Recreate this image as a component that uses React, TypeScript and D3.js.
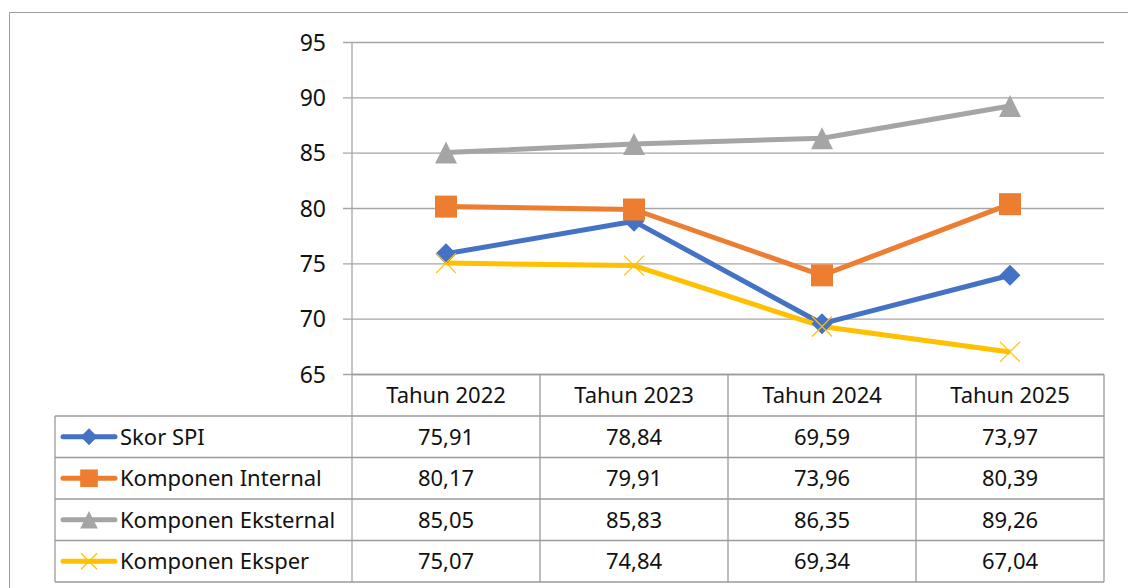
import React from "react";
import * as d3 from "d3";

const years = ["Tahun 2022", "Tahun 2023", "Tahun 2024", "Tahun 2025"];
const seriesNames = [
  "Skor SPI",
  "Komponen Internal",
  "Komponen Eksternal",
  "Komponen Eksper",
];
const skorSpi = [75.91, 78.84, 69.59, 73.97];
const internal = [80.17, 79.91, 73.96, 80.39];
const eksternal = [85.05, 85.83, 86.35, 89.26];
const eksper = [75.07, 74.84, 69.34, 67.04];
const yTicks = [65, 70, 75, 80, 85, 90, 95];

const colors = ["#4472C4", "#ED7D31", "#A5A5A5", "#FFC000"];
const markerTypes = ["diamond", "square", "triangle", "x"];

const W = 1128;
const H = 588;
const FONT = "'Noto Sans', 'Open Sans', sans-serif";

const locale = d3.formatLocale({
  decimal: ",",
  thousands: ".",
  grouping: [3],
  currency: ["", ""],
});
const fmt = locale.format(".2f");

function Marker({ type, x, y, color, s = 1 }) {
  if (type === "diamond") {
    const r = 10.5 * s;
    return (
      <path
        d={`M${x},${y - r}L${x + r},${y}L${x},${y + r}L${x - r},${y}Z`}
        fill={color}
      />
    );
  }
  if (type === "square") {
    const h = 11 * s;
    return <rect x={x - h} y={y - h} width={2 * h} height={2 * h} fill={color} />;
  }
  if (type === "triangle") {
    const h = 11 * s;
    return (
      <path
        d={`M${x},${y - h}L${x + h},${y + h}L${x - h},${y + h}Z`}
        fill={color}
      />
    );
  }
  const h = 10 * s;
  return (
    <path
      d={`M${x - h},${y - h}L${x + h},${y + h}M${x + h},${y - h}L${x - h},${y + h}`}
      stroke={color}
      strokeWidth={1.2}
    />
  );
}

export default function App() {
  const series = [skorSpi, internal, eksternal, eksper];

  const x = d3.scaleBand().domain(years).range([352, 1104]).padding(0);
  const y = d3.scaleLinear().domain([65, 95]).range([374.5, 42.5]);

  const headerTop = y(65);
  const rowH = 41.5;
  const tableLeft = 55;
  const rowTop = (i) => headerTop + rowH * (i + 1);
  const tableBottom = rowTop(series.length);

  const line = d3
    .line<number>()
    .x((_, i) => x(years[i]) + x.bandwidth() / 2)
    .y((d) => y(d));

  const grid = "#a6a6a6";
  const tableStroke = "#9a9a9a";

  return (
    <svg
      width={W}
      height={H}
      style={{ position: "absolute", left: 0, top: 0, background: "#fff" }}
      fontFamily={FONT}
    >
      {/* outer chart border */}
      <rect x={9.5} y={12.5} width={W + 10} height={H + 10} fill="none" stroke="#a0a0a0" />

      {/* gridlines and ticks */}
      {yTicks.map((t) => (
        <g key={t}>
          <line x1={343} x2={1104} y1={y(t)} y2={y(t)} stroke={grid} strokeWidth={1.3} />
          <text
            x={326}
            y={y(t)}
            dy="0.36em"
            textAnchor="end"
            fontSize={23}
            fill="#111"
          >
            {t}
          </text>
        </g>
      ))}
      <line x1={352} x2={352} y1={y(95)} y2={tableBottom} stroke={grid} strokeWidth={1.3} />

      {/* series lines */}
      {series.map((vals, si) => (
        <path
          key={si}
          d={line(vals)}
          fill="none"
          stroke={colors[si]}
          strokeWidth={5}
          strokeLinejoin="round"
        />
      ))}
      {series.map((vals, si) =>
        vals.map((v, i) => (
          <Marker
            key={`${si}-${i}`}
            type={markerTypes[si]}
            x={x(years[i]) + x.bandwidth() / 2}
            y={y(v)}
            color={colors[si]}
          />
        ))
      )}

      {/* data table */}
      <g stroke={tableStroke} strokeWidth={1.3} fill="none">
        <line x1={352} x2={1104} y1={headerTop} y2={headerTop} />
        {series.map((_, i) => (
          <line key={i} x1={tableLeft} x2={1104} y1={rowTop(i)} y2={rowTop(i)} />
        ))}
        <line x1={tableLeft} x2={1104} y1={tableBottom} y2={tableBottom} />
        <line x1={tableLeft} x2={tableLeft} y1={rowTop(0)} y2={tableBottom} />
        {years.map((yr) => (
          <line
            key={yr}
            x1={x(yr) + x.bandwidth()}
            x2={x(yr) + x.bandwidth()}
            y1={headerTop}
            y2={tableBottom}
          />
        ))}
      </g>

      {years.map((yr) => (
        <text
          key={yr}
          x={x(yr) + x.bandwidth() / 2}
          y={headerTop + rowH / 2}
          dy="0.36em"
          textAnchor="middle"
          fontSize={22}
          fill="#111"
        >
          {yr}
        </text>
      ))}

      {series.map((vals, si) => {
        const cy = rowTop(si) + rowH / 2;
        return (
          <g key={si}>
            <line
              x1={63}
              x2={115}
              y1={cy}
              y2={cy}
              stroke={colors[si]}
              strokeWidth={5}
              strokeLinecap="round"
            />
            <Marker type={markerTypes[si]} x={89} y={cy} color={colors[si]} s={0.8} />
            <text x={120} y={cy} dy="0.36em" fontSize={22} fill="#111">
              {seriesNames[si]}
            </text>
            {vals.map((v, i) => (
              <text
                key={i}
                x={x(years[i]) + x.bandwidth() / 2}
                y={cy}
                dy="0.36em"
                textAnchor="middle"
                fontSize={22}
                fill="#111"
              >
                {fmt(v)}
              </text>
            ))}
          </g>
        );
      })}
    </svg>
  );
}
